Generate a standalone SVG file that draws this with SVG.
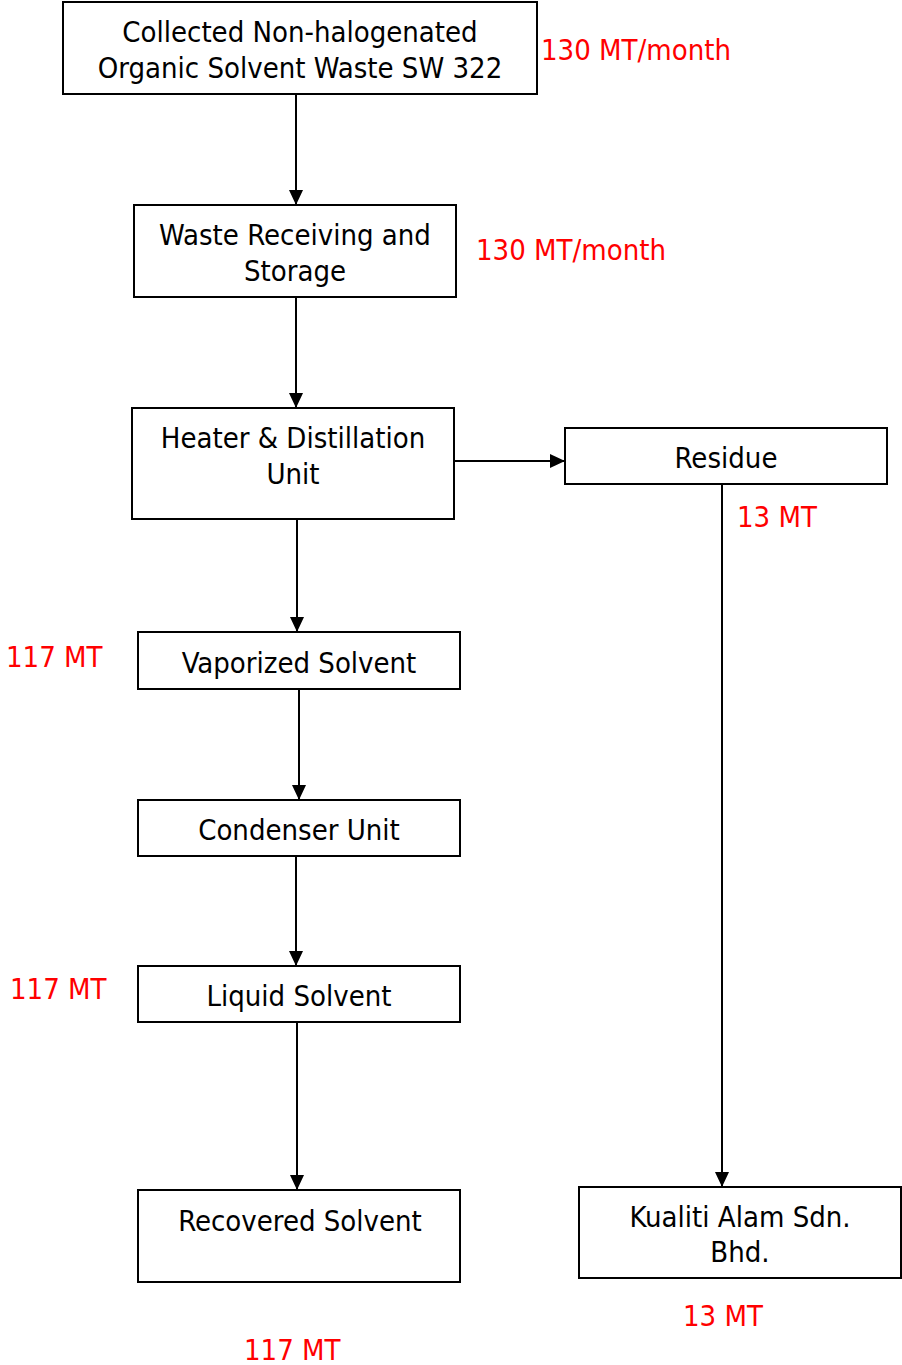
<svg xmlns="http://www.w3.org/2000/svg" width="902" height="1365" viewBox="0 0 902 1365">
<style>
rect.box{fill:#fff;stroke:#000;stroke-width:2}
text{font-family:"DejaVu Sans Condensed","DejaVu Sans",sans-serif;font-size:29px}
text.n{fill:#000;text-anchor:middle}
text.r{fill:#f00}
line.c{stroke:#000;stroke-width:2;marker-end:url(#ah)}
</style>
<defs>
<marker id="ah" markerWidth="15" markerHeight="14" refX="15" refY="7" orient="auto" markerUnits="userSpaceOnUse">
<path d="M0,0 L15,7 L0,14 z" fill="#000"/>
</marker>
</defs>
<g id="connectors">
<line class="c" x1="296" y1="94" x2="296" y2="205"/>
<line class="c" x1="296" y1="297" x2="296" y2="408"/>
<line class="c" x1="297" y1="519" x2="297" y2="632"/>
<line class="c" x1="299" y1="689" x2="299" y2="800"/>
<line class="c" x1="296" y1="856" x2="296" y2="966"/>
<line class="c" x1="297" y1="1022" x2="297" y2="1190"/>
<line class="c" x1="452" y1="461" x2="565" y2="461"/>
<line class="c" x1="722" y1="484" x2="722" y2="1187"/>
</g>
<g id="collected">
<rect class="box" x="63" y="2" width="474" height="92"/>
<text class="n" x="300" y="42">Collected Non-halogenated</text>
<text class="n" x="300" y="78">Organic Solvent Waste SW 322</text>
</g>
<g id="receiving">
<rect class="box" x="134" y="205" width="322" height="92"/>
<text class="n" x="295" y="245">Waste Receiving and</text>
<text class="n" x="295" y="281">Storage</text>
</g>
<g id="heater">
<rect class="box" x="132" y="408" width="322" height="111"/>
<text class="n" x="293" y="448">Heater &amp; Distillation</text>
<text class="n" x="293" y="484">Unit</text>
</g>
<g id="residue">
<rect class="box" x="565" y="428" width="322" height="56"/>
<text class="n" x="726" y="468">Residue</text>
</g>
<g id="vaporized">
<rect class="box" x="138" y="632" width="322" height="57"/>
<text class="n" x="299" y="673">Vaporized Solvent</text>
</g>
<g id="condenser">
<rect class="box" x="138" y="800" width="322" height="56"/>
<text class="n" x="299" y="840">Condenser Unit</text>
</g>
<g id="liquid">
<rect class="box" x="138" y="966" width="322" height="56"/>
<text class="n" x="299" y="1006">Liquid Solvent</text>
</g>
<g id="recovered">
<rect class="box" x="138" y="1190" width="322" height="92"/>
<text class="n" x="300" y="1231">Recovered Solvent</text>
</g>
<g id="kualiti">
<rect class="box" x="579" y="1187" width="322" height="91"/>
<text class="n" x="740" y="1227">Kualiti Alam Sdn.</text>
<text class="n" x="740" y="1262">Bhd.</text>
</g>
<g id="labels">
<text class="r" x="541" y="60">130 MT/month</text>
<text class="r" x="476" y="260">130 MT/month</text>
<text class="r" x="737" y="527">13 MT</text>
<text class="r" x="6" y="667">117 MT</text>
<text class="r" x="10" y="999">117 MT</text>
<text class="r" x="683" y="1326">13 MT</text>
<text class="r" x="244" y="1360">117 MT</text>
</g>
</svg>
